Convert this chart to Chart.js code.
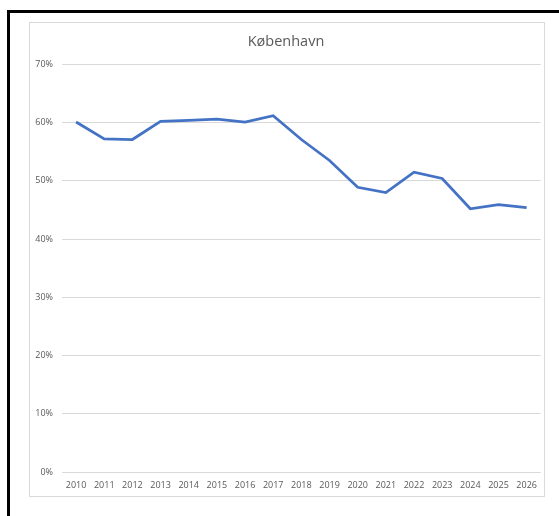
<!DOCTYPE html>
<html><head><meta charset="utf-8">
<script src="https://cdn.jsdelivr.net/npm/chart.js@4.4.1/dist/chart.umd.min.js"></script>
<style>
html,body{margin:0;padding:0;background:#fff;width:559px;height:516px;overflow:hidden;}
#frame{position:absolute;left:7px;top:10px;width:600px;height:600px;border:3px solid #000;box-sizing:border-box;}
#box{position:absolute;left:29px;top:22px;width:516px;height:475px;border:1px solid #d9d9d9;box-sizing:border-box;background:#fff;}
#wrap{position:absolute;left:29px;top:22px;width:516px;height:475px;}
</style></head>
<body>
<div id="frame"></div>
<div id="box"></div>
<div id="wrap"><canvas id="c"></canvas></div>
<script>
const categories = ['2010','2011','2012','2013','2014','2015','2016','2017','2018','2019','2020','2021','2022','2023','2024','2025','2026'];
const values = [0.601,0.572,0.571,0.602,0.604,0.606,0.601,0.612,0.571,0.535,0.489,0.480,0.515,0.504,0.452,0.459,0.454];
const yTicks = [0,0.1,0.2,0.3,0.4,0.5,0.6,0.7];
const title = 'København';

new Chart(document.getElementById('c'), {
  type: 'line',
  data: { labels: categories, datasets: [{ data: values, borderColor: '#4472c4', borderWidth: 2.75, pointRadius: 0, tension: 0, fill: false }] },
  options: {
    responsive: true, maintainAspectRatio: false, animation: false,
    layout: { padding: { left: 0, right: 2, top: 0, bottom: 0 } },
    plugins: {
      legend: { display: false }, tooltip: { enabled: false },
      title: { display: true, text: title, color: '#595959', font: { family: 'Open Sans', size: 14.5, weight: 'normal' }, padding: { top: 11, bottom: 14 } }
    },
    scales: {
      x: {
        offset: true,
        grid: { display: false, drawTicks: false },
        border: { display: false },
        ticks: { color: '#595959', font: { family: 'Open Sans', size: 9 }, padding: 8, maxRotation: 0, autoSkip: false },
        afterFit: s => { s.height = 25; }
      },
      y: {
        min: 0, max: 0.7,
        afterBuildTicks: s => { s.ticks = yTicks.map(v => ({ value: v })); },
        grid: { color: '#d9d9d9', drawTicks: false, lineWidth: 1 },
        border: { display: false },
        ticks: { color: '#595959', font: { family: 'Open Sans', size: 9 }, padding: 9, callback: v => Math.round(v * 100) + '%' },
        afterFit: s => { s.width = 33; }
      }
    }
  }
});
</script>
</body></html>
